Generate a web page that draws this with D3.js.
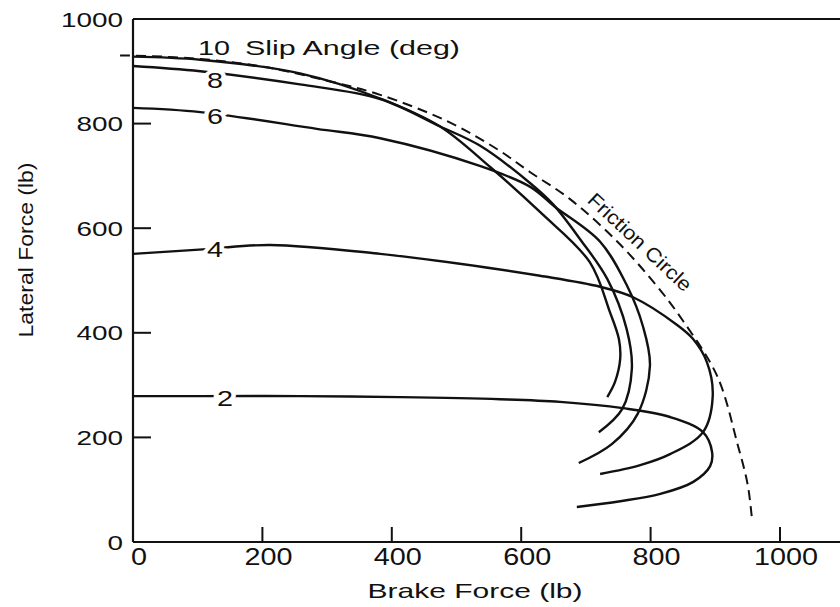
<!DOCTYPE html>
<html><head><meta charset="utf-8">
<script src="https://cdn.jsdelivr.net/npm/d3@7"></script>
<style>
html,body{margin:0;padding:0;background:#fff;}
svg{display:block;font-family:"Liberation Sans",Arial,Helvetica,sans-serif;}
</style></head><body>
<svg id="c" width="840" height="607"></svg>
<script>
// ---- data (lb) ----
const xTicks = [0, 200, 400, 600, 800, 1000];
const yTicks = [0, 200, 400, 600, 800, 1000];
const slipAngles = [2, 4, 6, 8, 10];

const slip2X = [0, 104, 258, 413, 567, 660, 757, 830, 881, 895, 892, 866, 815, 753, 686];
const slip2Y = [279, 279, 279, 277, 273, 268, 256, 239, 210, 172, 145, 115, 92, 78, 67];

const slip4X = [0, 114, 212, 382, 505, 629, 722, 773, 841, 865, 887, 896, 881, 830, 784, 722];
const slip4Y = [551, 560, 568, 551, 532, 509, 488, 468, 415, 389, 344, 279, 210, 168, 147, 130];

const slip6X = [0, 104, 284, 382, 536, 614, 652, 722, 764, 788, 799, 780, 740, 689];
const slip6Y = [830, 822, 790, 772, 719, 679, 641, 574, 489, 413, 337, 245, 187, 151];

const slip8X = [0, 104, 258, 382, 474, 536, 614, 649, 691, 733, 763, 771, 756, 720];
const slip8Y = [910, 900, 875, 847, 795, 758, 686, 646, 579, 503, 407, 331, 254, 210];

const slip10X = [0, 104, 258, 382, 474, 552, 629, 706, 737, 751, 753, 745, 733];
const slip10Y = [928, 922, 896, 848, 795, 717, 631, 535, 440, 388, 350, 306, 277];

const frictionX = [-20, 0, 100, 200, 300, 382, 485, 563, 614, 675, 748, 810, 850, 903, 935, 950, 957];
const frictionY = [930, 930, 924, 909, 882, 855, 805, 751, 707, 656, 575, 489, 423, 317, 184, 110, 40];

// ---- drawing ----
const svg = d3.select("#c");
const x = d3.scaleLinear().domain([0, 1000]).range([133, 780]);
const y = d3.scaleLinear().domain([0, 1000]).range([542, 19]);
const ink = "#111";

const zip = (xs, ys) => xs.map((v, i) => [v, ys[i]]);
const line = d3.line().x(d => x(d[0])).y(d => y(d[1])).curve(d3.curveCatmullRom.alpha(0.5));

// frame
svg.append("line").attr("x1", x(0)).attr("x2", 840).attr("y1", y(0)).attr("y2", y(0))
  .attr("stroke", ink).attr("stroke-width", 2.2);
svg.append("line").attr("x1", x(0)).attr("x2", 840).attr("y1", y(1000)).attr("y2", y(1000))
  .attr("stroke", ink).attr("stroke-width", 2.2);
svg.append("line").attr("x1", x(0)).attr("x2", x(0)).attr("y1", y(0)).attr("y2", y(1000))
  .attr("stroke", ink).attr("stroke-width", 2.2);

// x ticks (inward)
svg.selectAll(".xt").data(xTicks.filter(d => d > 0)).join("line")
  .attr("x1", d => x(d)).attr("x2", d => x(d)).attr("y1", y(0)).attr("y2", y(0) - 15)
  .attr("stroke", ink).attr("stroke-width", 2);
svg.selectAll(".xl").data(xTicks).join("text")
  .attr("x", d => x(d) + 6).attr("y", 565)
  .attr("text-anchor", "middle").attr("font-size", 23).attr("fill", ink)
  .attr("textLength", d => String(d).length * 16).attr("lengthAdjust", "spacingAndGlyphs")
  .text(d => d);

// y ticks (inward)
svg.selectAll(".yt").data(yTicks.filter(d => d > 0 && d < 1000)).join("line")
  .attr("x1", x(0)).attr("x2", x(0) + 18).attr("y1", d => y(d)).attr("y2", d => y(d))
  .attr("stroke", ink).attr("stroke-width", 2);
svg.selectAll(".yl").data(yTicks).join("text")
  .attr("x", 123).attr("y", d => y(d) + 7.5)
  .attr("text-anchor", "end").attr("font-size", 21).attr("fill", ink)
  .attr("textLength", d => String(d).length * 15.5).attr("lengthAdjust", "spacingAndGlyphs")
  .text(d => d);

// axis titles
svg.append("text").attr("x", 475).attr("y", 598).attr("text-anchor", "middle")
  .attr("font-size", 21).attr("fill", ink)
  .attr("textLength", 215).attr("lengthAdjust", "spacingAndGlyphs")
  .text("Brake Force (lb)");
svg.append("text").attr("transform", "translate(33,250) rotate(-90)")
  .attr("text-anchor", "middle").attr("font-size", 21).attr("fill", ink)
  .attr("textLength", 175).attr("lengthAdjust", "spacingAndGlyphs")
  .text("Lateral Force (lb)");

// friction circle
svg.append("path").attr("d", line(zip(frictionX, frictionY)))
  .attr("fill", "none").attr("stroke", ink).attr("stroke-width", 2)
  .attr("stroke-dasharray", "10,6");

// slip angle curves
const curves = [
  {a: 2, xs: slip2X, ys: slip2Y},
  {a: 4, xs: slip4X, ys: slip4Y},
  {a: 6, xs: slip6X, ys: slip6Y},
  {a: 8, xs: slip8X, ys: slip8Y},
  {a: 10, xs: slip10X, ys: slip10Y}
];
svg.selectAll(".curve").data(curves).join("path")
  .attr("d", d => line(zip(d.xs, d.ys)))
  .attr("fill", "none").attr("stroke", ink).attr("stroke-width", 2.4);

// curve labels
const lab = [
  {t: "8", cx: 215, cy: 80},
  {t: "6", cx: 215, cy: 116},
  {t: "4", cx: 215, cy: 249},
  {t: "2", cx: 225, cy: 398}
];
svg.selectAll(".cl").data(lab).join("text")
  .attr("x", d => d.cx).attr("y", d => d.cy + 7.8)
  .attr("text-anchor", "middle").attr("font-size", 22).attr("fill", ink)
  .attr("stroke", "#fff").attr("stroke-width", 7).attr("paint-order", "stroke")
  .attr("textLength", 16).attr("lengthAdjust", "spacingAndGlyphs")
  .text(d => d.t);

svg.append("text").attr("x", 198).attr("y", 55).attr("font-size", 21).attr("fill", ink)
  .attr("textLength", 32).attr("lengthAdjust", "spacingAndGlyphs").text(String(slipAngles[4]));
svg.append("text").attr("x", 245).attr("y", 55).attr("font-size", 21).attr("fill", ink)
  .attr("textLength", 215).attr("lengthAdjust", "spacingAndGlyphs").text("Slip Angle (deg)");

svg.append("text").attr("transform", "translate(640,242) rotate(43)")
  .attr("text-anchor", "middle").attr("font-size", 20).attr("fill", ink)
  .attr("dy", "0.35em")
  .attr("textLength", 134).attr("lengthAdjust", "spacingAndGlyphs")
  .text("Friction Circle");
</script>
</body></html>
